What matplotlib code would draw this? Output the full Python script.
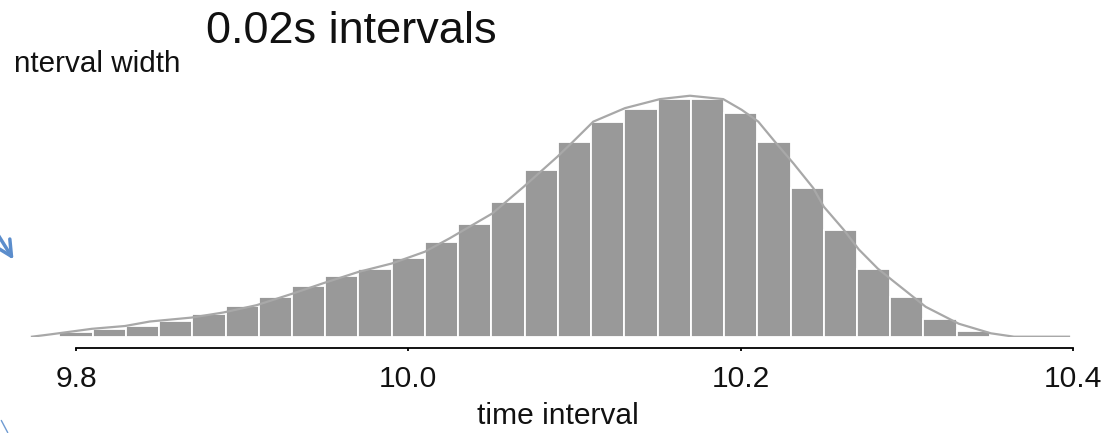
import numpy as np
import matplotlib.pyplot as plt

plt.rcParams['font.family'] = ['Liberation Sans', 'DejaVu Sans']

# histogram of the time intervals, 0.02s bins (bin centres)
bin_centres = [9.80, 9.82, 9.84, 9.86, 9.88, 9.90, 9.92, 9.94, 9.96, 9.98,
               10.00, 10.02, 10.04, 10.06, 10.08, 10.10, 10.12, 10.14, 10.16, 10.18,
               10.20, 10.22, 10.24, 10.26, 10.28, 10.30, 10.32, 10.34]
density = [0.09, 0.13, 0.19, 0.27, 0.40, 0.54, 0.71, 0.90, 1.08, 1.21,
           1.39, 1.68, 2.00, 2.39, 2.96, 3.45, 3.81, 4.05, 4.23, 4.23,
           3.98, 3.45, 2.64, 1.89, 1.21, 0.71, 0.32, 0.11]
bin_width = 0.02

# smoothed density curve
curve_x = [9.7735, 9.7843, 9.8095, 9.8295, 9.8445, 9.8696, 9.8887, 9.9087, 9.9298, 9.9488,
           9.9699, 9.9900, 10.010, 10.025, 10.0506, 10.0693, 10.0898, 10.0993, 10.1113, 10.1304,
           10.1514, 10.1695, 10.1895, 10.2006, 10.2106, 10.2207, 10.2317, 10.2437, 10.2500, 10.2620,
           10.2711, 10.2825, 10.2922, 10.3114, 10.3313, 10.3506, 10.3645, 10.3976]
curve_y = [0.00, 0.04, 0.14, 0.19, 0.27, 0.34, 0.43, 0.56, 0.76, 0.95,
           1.15, 1.30, 1.51, 1.75, 2.19, 2.66, 3.20, 3.47, 3.82, 4.06,
           4.22, 4.28, 4.22, 4.03, 3.82, 3.46, 3.08, 2.64, 2.31, 1.90,
           1.55, 1.21, 0.98, 0.53, 0.23, 0.06, 0.00, 0.00]

xticks = [9.8, 10.0, 10.2, 10.4]

W, H = 1115, 433
fig = plt.figure(figsize=(W / 100, H / 100), dpi=100)

# 9.8 sits at x=76px and 10.4 at x=1073px
px_per_unit = (1073 - 76) / 0.6
x_left = 9.8 - 76 / px_per_unit
x_right = 9.8 + (W - 76) / px_per_unit

ymax = 4.5
base_px = 96.3
ax = fig.add_axes([0, base_px / H, 1, ymax * 56.3 / H])
ax.set_xlim(x_left, x_right)
ax.set_ylim(0, ymax)

ax.bar(bin_centres, density, width=bin_width, color='#999999',
       edgecolor='white', linewidth=1.3)
ax.plot(curve_x, curve_y, color='#a8a8a8', lw=1.6, solid_joinstyle='round')

for s in ['top', 'right', 'left']:
    ax.spines[s].set_visible(False)
ax.spines['bottom'].set_position(('outward', 8.1))
ax.spines['bottom'].set_bounds(9.8, 10.4)
ax.spines['bottom'].set_linewidth(1.3)
ax.set_yticks([])
ax.set_xticks(xticks)
ax.set_xticklabels(['9.8', '10.0', '10.2', '10.4'])
ax.tick_params(axis='x', direction='out', length=2.5, width=1.3,
               labelsize=21.6, pad=10, labelcolor='#111111')
ax.set_xlabel('time interval', fontsize=21.6, labelpad=6, color='#111111')

fig.text(351 / W, (H - 43) / H, '0.02s intervals', ha='center',
         va='baseline', fontsize=32.5, color='#111111')
fig.text(14 / W, (H - 72) / H, 'nterval width', ha='left',
         va='baseline', fontsize=21.3, color='#111111')

# blue pointer arrows at the left edge
ax.annotate('', xy=(15, H - 262), xytext=(-30, H - 190), xycoords='figure pixels',
            textcoords='figure pixels',
            arrowprops=dict(arrowstyle='->', color='#5b8dcc', lw=2.5,
                            mutation_scale=28))
ax.annotate('', xy=(9, -2), xytext=(0, H - 418), xycoords='figure pixels',
            textcoords='figure pixels',
            arrowprops=dict(arrowstyle='-', color='#6f9bd2', lw=1.0))

fig.savefig('out.png', dpi=100)
plt.close()
